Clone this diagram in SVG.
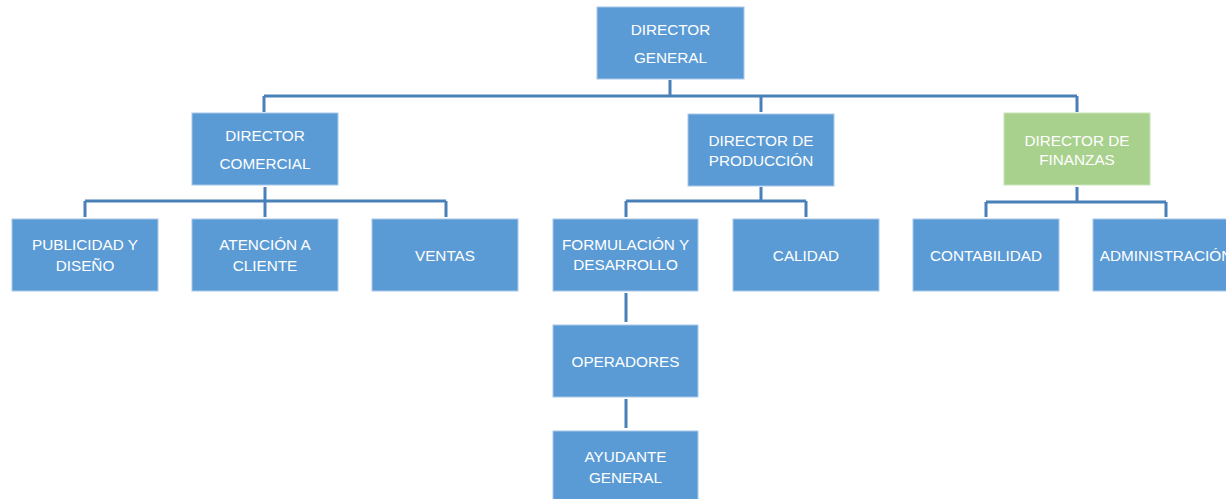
<svg xmlns="http://www.w3.org/2000/svg" width="1226" height="499" viewBox="0 0 1226 499">
<style>
.b{fill:#5B9BD5;stroke:#A9C8EA;stroke-width:1}
.g{fill:#A9D18E;stroke:#C9E3B8;stroke-width:1}
.t{font-family:"Liberation Sans",Arial,sans-serif;font-size:15.3px;fill:#FFFFFF;text-anchor:middle}
.c{fill:none;stroke:#4A80B8;stroke-width:3}
</style>
<rect width="1226" height="499" fill="#FFFFFF"/>
<g id="connectors">
<path class="c" d="M670 80V96M264 96H1077M264 96V112M761 96V112M1077 96V112"/>
<path class="c" d="M265 187V201M85 201H446M85 201V217M265 201V217M446 201V217"/>
<path class="c" d="M761 187V201M626 201H806M626 201V217M806 201V217"/>
<path class="c" d="M1077 187V202M986 202H1166M986 202V217M1166 202V217"/>
<path class="c" d="M626 293V322M626 399V428"/>
</g>
<g id="director-general"><rect class="b" x="597" y="7" width="147" height="72"/><text class="t" x="670.5" y="34.5">DIRECTOR</text><text class="t" x="670.5" y="62.5">GENERAL</text></g>
<g id="director-comercial"><rect class="b" x="192" y="113" width="146" height="72"/><text class="t" x="265" y="140.5">DIRECTOR</text><text class="t" x="265" y="168.5">COMERCIAL</text></g>
<g id="director-produccion"><rect class="b" x="688" y="114" width="146" height="72"/><text class="t" x="761" y="145.5">DIRECTOR DE</text><text class="t" x="761" y="165.5">PRODUCCIÓN</text></g>
<g id="director-finanzas"><rect class="g" x="1004" y="113" width="146" height="72"/><text class="t" x="1077" y="145.5">DIRECTOR DE</text><text class="t" x="1077" y="164.5">FINANZAS</text></g>
<g id="publicidad"><rect class="b" x="12" y="219" width="146" height="72"/><text class="t" x="85" y="249.5">PUBLICIDAD Y</text><text class="t" x="85" y="270.5">DISEÑO</text></g>
<g id="atencion"><rect class="b" x="192" y="219" width="146" height="72"/><text class="t" x="265" y="249.5">ATENCIÓN A</text><text class="t" x="265" y="270.5">CLIENTE</text></g>
<g id="ventas"><rect class="b" x="372" y="219" width="146" height="72"/><text class="t" x="445" y="260.5">VENTAS</text></g>
<g id="formulacion"><rect class="b" x="553" y="219" width="145" height="72"/><text class="t" x="625.5" y="249.5">FORMULACIÓN Y</text><text class="t" x="625.5" y="269.5">DESARROLLO</text></g>
<g id="calidad"><rect class="b" x="733" y="219" width="146" height="72"/><text class="t" x="806" y="260.5">CALIDAD</text></g>
<g id="contabilidad"><rect class="b" x="913" y="219" width="146" height="72"/><text class="t" x="986" y="260.5">CONTABILIDAD</text></g>
<g id="administracion"><rect class="b" x="1093" y="219" width="146" height="72"/><text class="t" x="1166" y="260.5">ADMINISTRACIÓN</text></g>
<g id="operadores"><rect class="b" x="553" y="325" width="145" height="72"/><text class="t" x="625.5" y="366.5">OPERADORES</text></g>
<g id="ayudante"><rect class="b" x="553" y="431" width="145" height="72"/><text class="t" x="625.5" y="461.5">AYUDANTE</text><text class="t" x="625.5" y="482.5">GENERAL</text></g>
</svg>
